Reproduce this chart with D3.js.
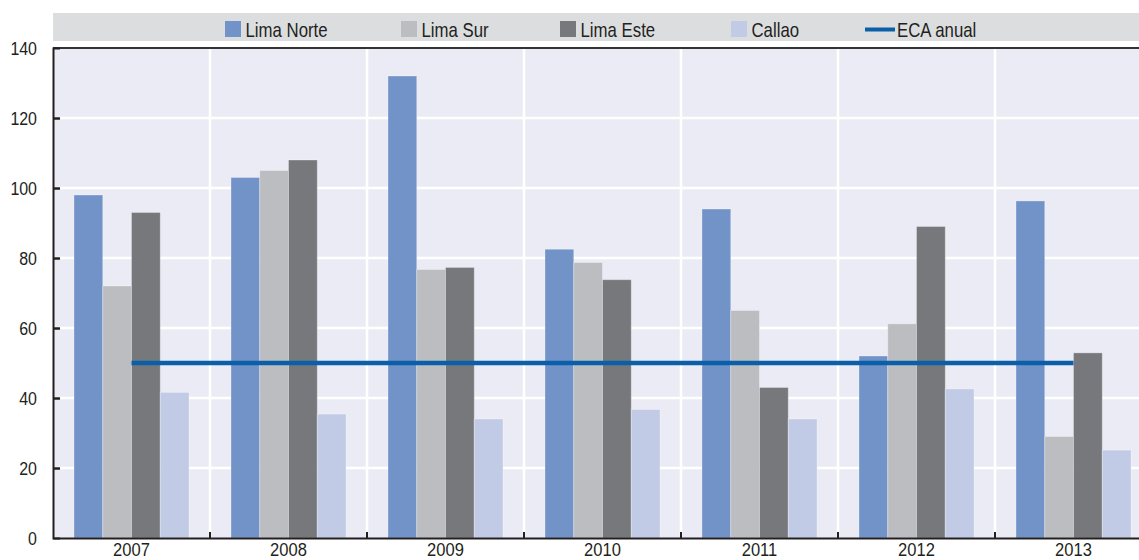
<!DOCTYPE html>
<html><head><meta charset="utf-8">
<script src="https://cdn.jsdelivr.net/npm/d3@7"></script>
<style>
html,body{margin:0;padding:0;background:#fff;}
svg{display:block;}
text{font-family:"Liberation Sans",Arial,sans-serif;fill:#231f20;}
</style></head>
<body>
<svg id="chart" width="1139" height="560"></svg>
<script>
const years = ["2007","2008","2009","2010","2011","2012","2013"];
const seriesNames = ["Lima Norte","Lima Sur","Lima Este","Callao"];
const limaNorte = [98, 103, 132, 82.5, 94, 52, 96.3];
const limaSur   = [72, 105, 76.7, 78.7, 65, 61.2, 29];
const limaEste  = [93, 108, 77.3, 73.8, 43, 89, 52.9];
const callao    = [41.6, 35.4, 34, 36.7, 34, 42.6, 25.1];
const ecaAnual  = [50, 50, 50, 50, 50, 50, 50];
const ecaName = "ECA anual";
const yTicks = [0, 20, 40, 60, 80, 100, 120, 140];
const colors = ["#7293c8", "#bcbdc0", "#77787b", "#c1cbe5"];
const ecaColor = "#0b5ea8";

const seriesValues = [limaNorte, limaSur, limaEste, callao];
const svg = d3.select("#chart");
const mLeft = 53, mRight = 1152, mTop = 48, mBottom = 538;
const SX = 0.84; // condensed look

const x0 = d3.scaleBand().domain(years).range([mLeft, mRight]).padding(0);
const x1 = d3.scaleBand().domain(seriesNames).range([0, x0.bandwidth()]).paddingInner(0).paddingOuter(0.73);
const y = d3.scaleLinear().domain([0, 140]).range([mBottom, mTop]);

// legend band
svg.append("rect").attr("x", mLeft).attr("y", 13).attr("width", 1139 - mLeft).attr("height", 28).attr("fill", "#dcdddf");

// plot background
svg.append("rect").attr("x", mLeft).attr("y", mTop).attr("width", mRight - mLeft).attr("height", mBottom - mTop).attr("fill", "#ebebf5");

// horizontal gridlines
svg.append("g").selectAll("line").data(yTicks.filter(t => t > 0 && t < 140)).join("line")
  .attr("x1", mLeft).attr("x2", mRight).attr("y1", d => y(d)).attr("y2", d => y(d))
  .attr("stroke", "#fff").attr("stroke-width", 2.5);
// vertical gridlines at band boundaries
svg.append("g").selectAll("line").data(years.slice(1)).join("line")
  .attr("x1", d => x0(d)).attr("x2", d => x0(d)).attr("y1", mTop).attr("y2", mBottom)
  .attr("stroke", "#fff").attr("stroke-width", 2.5);

// bars
const groups = svg.append("g").selectAll("g").data(years).join("g")
  .attr("transform", d => `translate(${x0(d)},0)`);
groups.selectAll("rect").data((d, i) => seriesNames.map((s, j) => ({s, j, v: seriesValues[j][i]}))).join("rect")
  .attr("x", d => x1(d.s)).attr("width", x1.bandwidth())
  .attr("y", d => y(d.v)).attr("height", d => y(0) - y(d.v))
  .attr("fill", d => colors[d.j])
  .attr("stroke", "rgba(255,255,255,0.3)").attr("stroke-width", 1);

// ECA line
const line = d3.line().x((d, i) => x0(years[i]) + x0.bandwidth() / 2).y(d => y(d));
svg.append("path").datum(ecaAnual).attr("d", line).attr("fill", "none")
  .attr("stroke", ecaColor).attr("stroke-width", 4.5);

// top frame line
svg.append("line").attr("x1", mLeft).attr("x2", 1139).attr("y1", mTop).attr("y2", mTop)
  .attr("stroke", "#333").attr("stroke-width", 2);

// y axis
const yAxis = d3.axisLeft(y).tickValues(yTicks).tickSize(-7).tickPadding(16).tickFormat(d3.format("d"));
const gy = svg.append("g").attr("transform", `translate(${mLeft},0)`).call(yAxis);
gy.select(".domain").attr("stroke", "#231f20").attr("stroke-width", 2);
gy.selectAll(".tick line").attr("stroke", "#231f20").attr("stroke-width", 2.5)
  .attr("display", d => (d === 0 || d === 140) ? "none" : null);
gy.selectAll(".tick text").attr("font-size", 19).attr("dy", "0.35em").attr("x", 0)
  .attr("transform", `translate(-16,0) scale(${SX},1)`)
  .style("font-family", '"Liberation Sans",Arial,sans-serif').attr("fill", "#231f20");

// x axis
const xAxis = d3.axisBottom(x0).tickSize(0).tickPadding(0);
const gx = svg.append("g").attr("transform", `translate(0,${mBottom})`).call(xAxis);
gx.select(".domain").attr("stroke", "#231f20").attr("stroke-width", 2);
gx.selectAll(".tick text").attr("font-size", 18).attr("y", 0).attr("dy", 0)
  .attr("transform", "translate(0,18) scale(0.92,1)")
  .style("font-family", '"Liberation Sans",Arial,sans-serif').attr("fill", "#231f20");
// small ticks at band boundaries
gx.append("g").selectAll("line").data(years.slice(1)).join("line")
  .attr("x1", d => x0(d)).attr("x2", d => x0(d)).attr("y1", 0).attr("y2", -6)
  .attr("stroke", "#231f20").attr("stroke-width", 2);

// legend
const legendItems = [
  {name: seriesNames[0], type: "rect", color: colors[0], x: 225},
  {name: seriesNames[1], type: "rect", color: colors[1], x: 401},
  {name: seriesNames[2], type: "rect", color: colors[2], x: 560},
  {name: seriesNames[3], type: "rect", color: colors[3], x: 731},
  {name: ecaName, type: "line", color: ecaColor, x: 865}
];
const lg = svg.append("g").selectAll("g").data(legendItems).join("g");
lg.filter(d => d.type === "rect").append("rect")
  .attr("x", d => d.x).attr("y", 21).attr("width", 16).attr("height", 16).attr("fill", d => d.color);
lg.filter(d => d.type === "line").append("line")
  .attr("x1", d => d.x).attr("x2", d => d.x + 30).attr("y1", 29.5).attr("y2", 29.5)
  .attr("stroke", d => d.color).attr("stroke-width", 4);
lg.append("text")
  .attr("transform", d => `translate(${d.type === "rect" ? d.x + 20.5 : d.x + 32},36.5) scale(${SX},1)`)
  .attr("font-size", 20).text(d => d.name);
</script>
</body></html>
